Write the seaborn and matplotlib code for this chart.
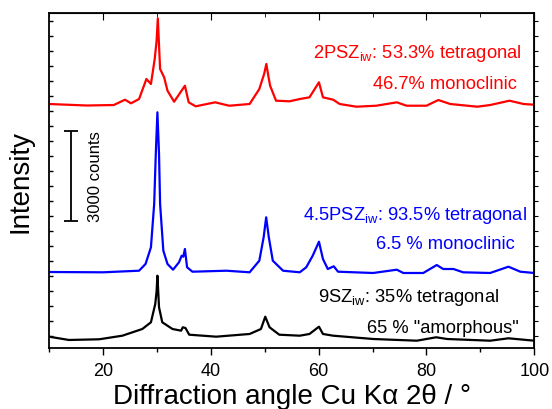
import matplotlib
matplotlib.use("Agg")
import matplotlib.pyplot as plt
import seaborn as sns
from matplotlib.ticker import MultipleLocator

# stacked XRD patterns, intensity in counts (offsets already included)
x_2psz = [10, 17, 22, 24.1, 25.2, 26.7, 28.06, 28.9, 29.6, 29.95, 30.18, 30.4, 30.6, 31.35,
          31.97, 33.2, 35.2, 35.9, 37.2, 40.8, 43.4, 47.2, 49.0, 49.9, 50.3, 50.7, 51.0,
          52.1, 54.6, 56.5, 58.3, 60.06, 60.8, 62.7, 63.9, 67.0, 70.7, 74.5, 76.3, 80.0,
          82.2, 84.4, 89.4, 91.8, 95.4, 98.0, 100]
y_2psz = [8243, 8193, 8209, 8386, 8266, 8409, 9076, 8909, 9742, 10350, 11099, 10200, 9409, 9132,
          8686, 8319, 8852, 8299, 8166, 8299, 8186, 8243, 8743, 9250, 9576, 9150, 8852,
          8353, 8333, 8409, 8466, 8966, 8466, 8386, 8243, 8153, 8186, 8299, 8186, 8186,
          8376, 8243, 8153, 8209, 8353, 8243, 8219]

x_45psz = [10, 20, 26.7, 27.9, 28.9, 29.5, 29.8, 30.1, 30.4, 30.6, 31.2, 31.97, 33.0, 34.1,
           34.6, 34.9, 35.2, 35.6, 36.6, 42.9, 47.2, 49.0, 49.8, 50.27, 50.76, 51.5, 53.4,
           56.5, 57.7, 58.9, 60.06, 60.8, 61.7, 62.8, 63.6, 70.1, 74.5, 75.7, 79.4, 81.9,
           83.1, 85.0, 86.8, 91.8, 95.2, 97.4, 100]
y_45psz = [2643, 2633, 2686, 2910, 3466, 4910, 6576, 7966, 6576, 4910, 3353, 2910, 2720, 2966,
           3186, 3153, 3410, 2800, 2653, 2686, 2633, 3020, 3800, 4466, 3800, 3020, 2686,
           2633, 2800, 3186, 3653, 3076, 2743, 2833, 2653, 2610, 2720, 2610, 2610, 2876,
           2743, 2743, 2633, 2610, 2820, 2653, 2610]

x_9sz = [10, 13.7, 19.3, 23.6, 27.3, 28.9, 29.7, 29.95, 30.1, 30.25, 30.4, 31.0, 32.9, 34.5,
         34.8, 35.3, 36.0, 41.0, 47.2, 49.3, 50.1, 50.9, 52.7, 56.5, 58.3, 60.06, 60.8,
         62.7, 70.1, 78.2, 81.8, 83.8, 91.8, 95.2, 100]
y_9sz = [487, 377, 400, 520, 743, 967, 1577, 2000, 2520, 2000, 1467, 967, 743, 687,
         800, 777, 553, 487, 577, 743, 1153, 800, 553, 520, 577, 820, 577,
         520, 410, 353, 467, 410, 353, 433, 353]

labels = [(r"2PSZ$_{\mathrm{iw}}$: 53.3% tetragonal", "46.7% monoclinic"),
          (r"4.5PSZ$_{\mathrm{iw}}$: 93.5% tetragonal", "6.5 % monoclinic"),
          (r"9SZ$_{\mathrm{iw}}$: 35% tetragonal", '65 % "amorphous"')]
colors = ["#ff0000", "#0000ff", "#000000"]

sns.set_style("ticks")
plt.rcParams["font.family"] = ["Liberation Sans", "DejaVu Sans"]
plt.rcParams["mathtext.fontset"] = "custom"
plt.rcParams["mathtext.rm"] = "Liberation Sans"
plt.rcParams["mathtext.it"] = "Liberation Sans"
plt.rcParams["text.color"] = "black"
plt.rcParams["axes.labelcolor"] = "black"
plt.rcParams["axes.edgecolor"] = "black"
plt.rcParams["xtick.color"] = "black"
plt.rcParams["ytick.color"] = "black"

fig = plt.figure(figsize=(5.52, 4.10), dpi=100)
ax = fig.add_axes([0.0888, 0.1488, 0.968 - 0.0888, 0.9659 - 0.1488])

for xs, ys, c in zip([x_2psz, x_45psz, x_9sz], [y_2psz, y_45psz, y_9sz], colors):
    sns.lineplot(x=xs, y=ys, color=c, linewidth=1.6, sort=False, estimator=None, ax=ax)

# labels next to each pattern
ax.text(97.6, 9800, labels[0][0], color=colors[0], fontsize=13.2, ha="right")
ax.text(96.8, 8766, labels[0][1], color=colors[0], fontsize=13.2, ha="right")
ax.text(98.7, 4410, labels[1][0], color=colors[1], fontsize=13.2, ha="right")
ax.text(96.3, 3433, labels[1][1], color=colors[1], fontsize=13.2, ha="right")
ax.text(93.5, 1687, labels[2][0], color=colors[2], fontsize=13.2, ha="right")
ax.text(97.2, 653, labels[2][1], color=colors[2], fontsize=13.2, ha="right")

# 3000 counts scale bar
ax.errorbar([14], [5850], yerr=[1500], color="black", capsize=5, linewidth=1.3, capthick=1.3)
ax.text(18.6, 5850, "3000 counts", rotation=90, ha="center", va="center", fontsize=12)

ax.set_xlim(10, 100)
ax.set_ylim(110, 11277)
ax.xaxis.set_major_locator(MultipleLocator(20))
ax.xaxis.set_minor_locator(MultipleLocator(10))
ax.yaxis.set_major_locator(MultipleLocator(500))
ax.set_yticklabels([])
ax.tick_params(axis="x", which="major", direction="out", length=5, width=1, labelsize=13, pad=5)
ax.tick_params(axis="x", which="minor", direction="out", length=3, width=1)
ax.tick_params(axis="y", which="major", direction="in", length=3, width=1)

top = ax.secondary_xaxis("top")
top.xaxis.set_major_locator(MultipleLocator(20))
top.xaxis.set_minor_locator(MultipleLocator(10))
top.tick_params(which="major", direction="in", length=5, labeltop=False)
top.tick_params(which="minor", direction="in", length=3)
right = ax.secondary_yaxis("right")
right.yaxis.set_major_locator(MultipleLocator(500))
right.tick_params(direction="out", length=3, labelright=False)

for s in ax.spines.values():
    s.set_linewidth(1.3)

ax.set_xlabel("Diffraction angle Cu K\u03b1 2\u03b8 / \u00b0", fontsize=20, labelpad=3)
ax.set_ylabel("Intensity", fontsize=20, labelpad=8)

fig.savefig("out.png", dpi=100)
